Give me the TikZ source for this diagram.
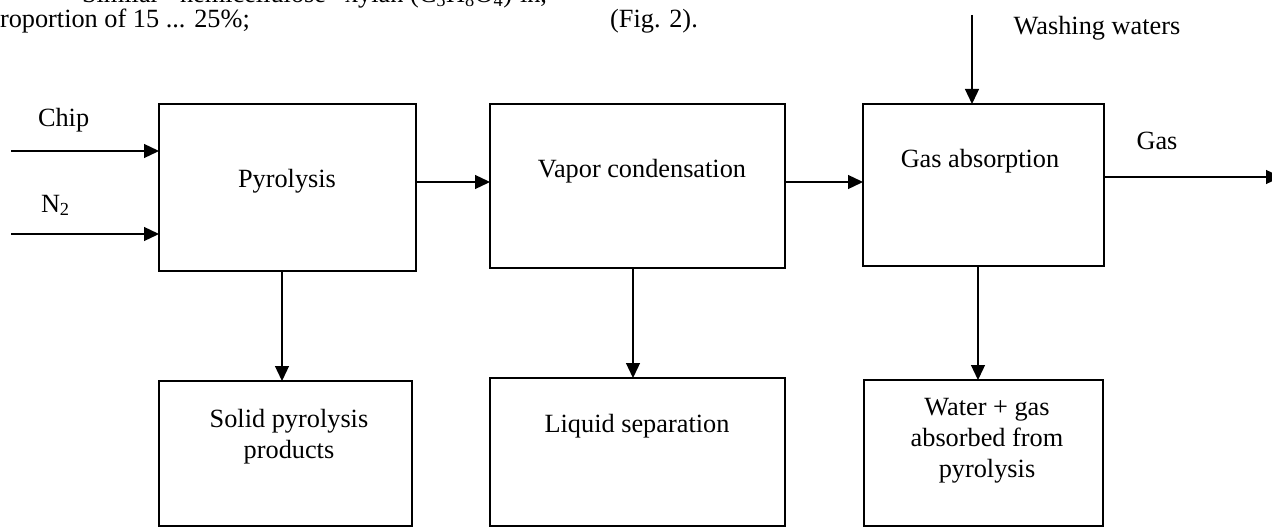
\documentclass[tikz,border=0pt]{standalone}
\usepackage{fontspec}
\setmainfont{Liberation Serif}
\usetikzlibrary{arrows.meta}
\begin{document}
\begin{tikzpicture}[x=1pt,y=-1pt,
  every node/.style={inner sep=0pt, outer sep=0pt, font=\fontsize{26.3}{31}\selectfont},
  box/.style={draw, line width=1.3pt, rectangle},
  lbl/.style={anchor=base},
  lblw/.style={anchor=base west},
  arr/.style={line width=1.3pt, -{Triangle[length=15pt,width=14pt]}}]
\useasboundingbox (0,0) rectangle (1272,527);
% running text of the page (cut at top)
\begin{scope}
\clip (0,0) rectangle (1272,60);
\node[lblw] (t1) at (82,3) {Similar};
\node[lblw] (t2) at (180,3) {hemicellulose};
\node[lblw] (t3) at (345,3) {xylan};
\node[lblw] (t4) at (410,3) {(C\textsubscript{5}H\textsubscript{8}O\textsubscript{4})};
\node[lblw] (t5) at (520,3) {in,};
\node[lblw] (t6) at (0,28) {roportion of 15 ... 25\%;};
\node[lbl] (t7) at (654,28) {(Fig. 2).};
\end{scope}
% boxes
\node[box, minimum width=257pt, minimum height=167pt] (pyro) at (287.5,187.5) {};
\node[box, minimum width=295pt, minimum height=164pt] (vapor) at (637.5,186) {};
\node[box, minimum width=241pt, minimum height=162pt] (gasab) at (983.5,185) {};
\node[box, minimum width=253pt, minimum height=145pt] (solid) at (285.5,453.5) {};
\node[box, minimum width=295pt, minimum height=148pt] (liquid) at (637.5,452) {};
\node[box, minimum width=239pt, minimum height=146pt] (water) at (983.5,453) {};
% box texts
\node[lbl] (pyroT) at (287,187) {Pyrolysis};
\node[lbl] (vaporT) at (642,177) {Vapor condensation};
\node[lbl] (gasabT) at (980,167) {Gas absorption};
\node[lbl, align=center] (solidT) at (289,458) {Solid pyrolysis\\products};
\node[lbl] (liquidT) at (637,432) {Liquid separation};
\node[lbl, align=center] (waterT) at (987,477) {Water + gas\\absorbed from\\pyrolysis};
% flow labels
\node[lblw] (chipL) at (38,126) {Chip};
\node[lblw] (n2L) at (41,212) {N\textsubscript{2}};
\node[lbl] (gasL) at (1157,149) {Gas};
\node[lbl] (washL) at (1097,35) {Washing waters};
% connectors
\coordinate (chipS) at (11,151);
\coordinate (n2S) at (11,234);
\coordinate (row) at (0,182);
\coordinate (gasE) at (1281,177);
\coordinate (washS) at (972,15);
\coordinate (d1) at (282,0);
\coordinate (d2) at (633,0);
\coordinate (d3) at (978,0);
\draw[arr] (chipS) -- (chipS -| pyro.west);
\draw[arr] (n2S) -- (n2S -| pyro.west);
\draw[arr] (row -| pyro.east) -- (row -| vapor.west);
\draw[arr] (row -| vapor.east) -- (row -| gasab.west);
\draw[arr] (gasE -| gasab.east) -- (gasE);
\draw[arr] (washS) -- (washS |- gasab.north);
\draw[arr] (d1 |- pyro.south) -- (d1 |- solid.north);
\draw[arr] (d2 |- vapor.south) -- (d2 |- liquid.north);
\draw[arr] (d3 |- gasab.south) -- (d3 |- water.north);
\end{tikzpicture}
\end{document}
